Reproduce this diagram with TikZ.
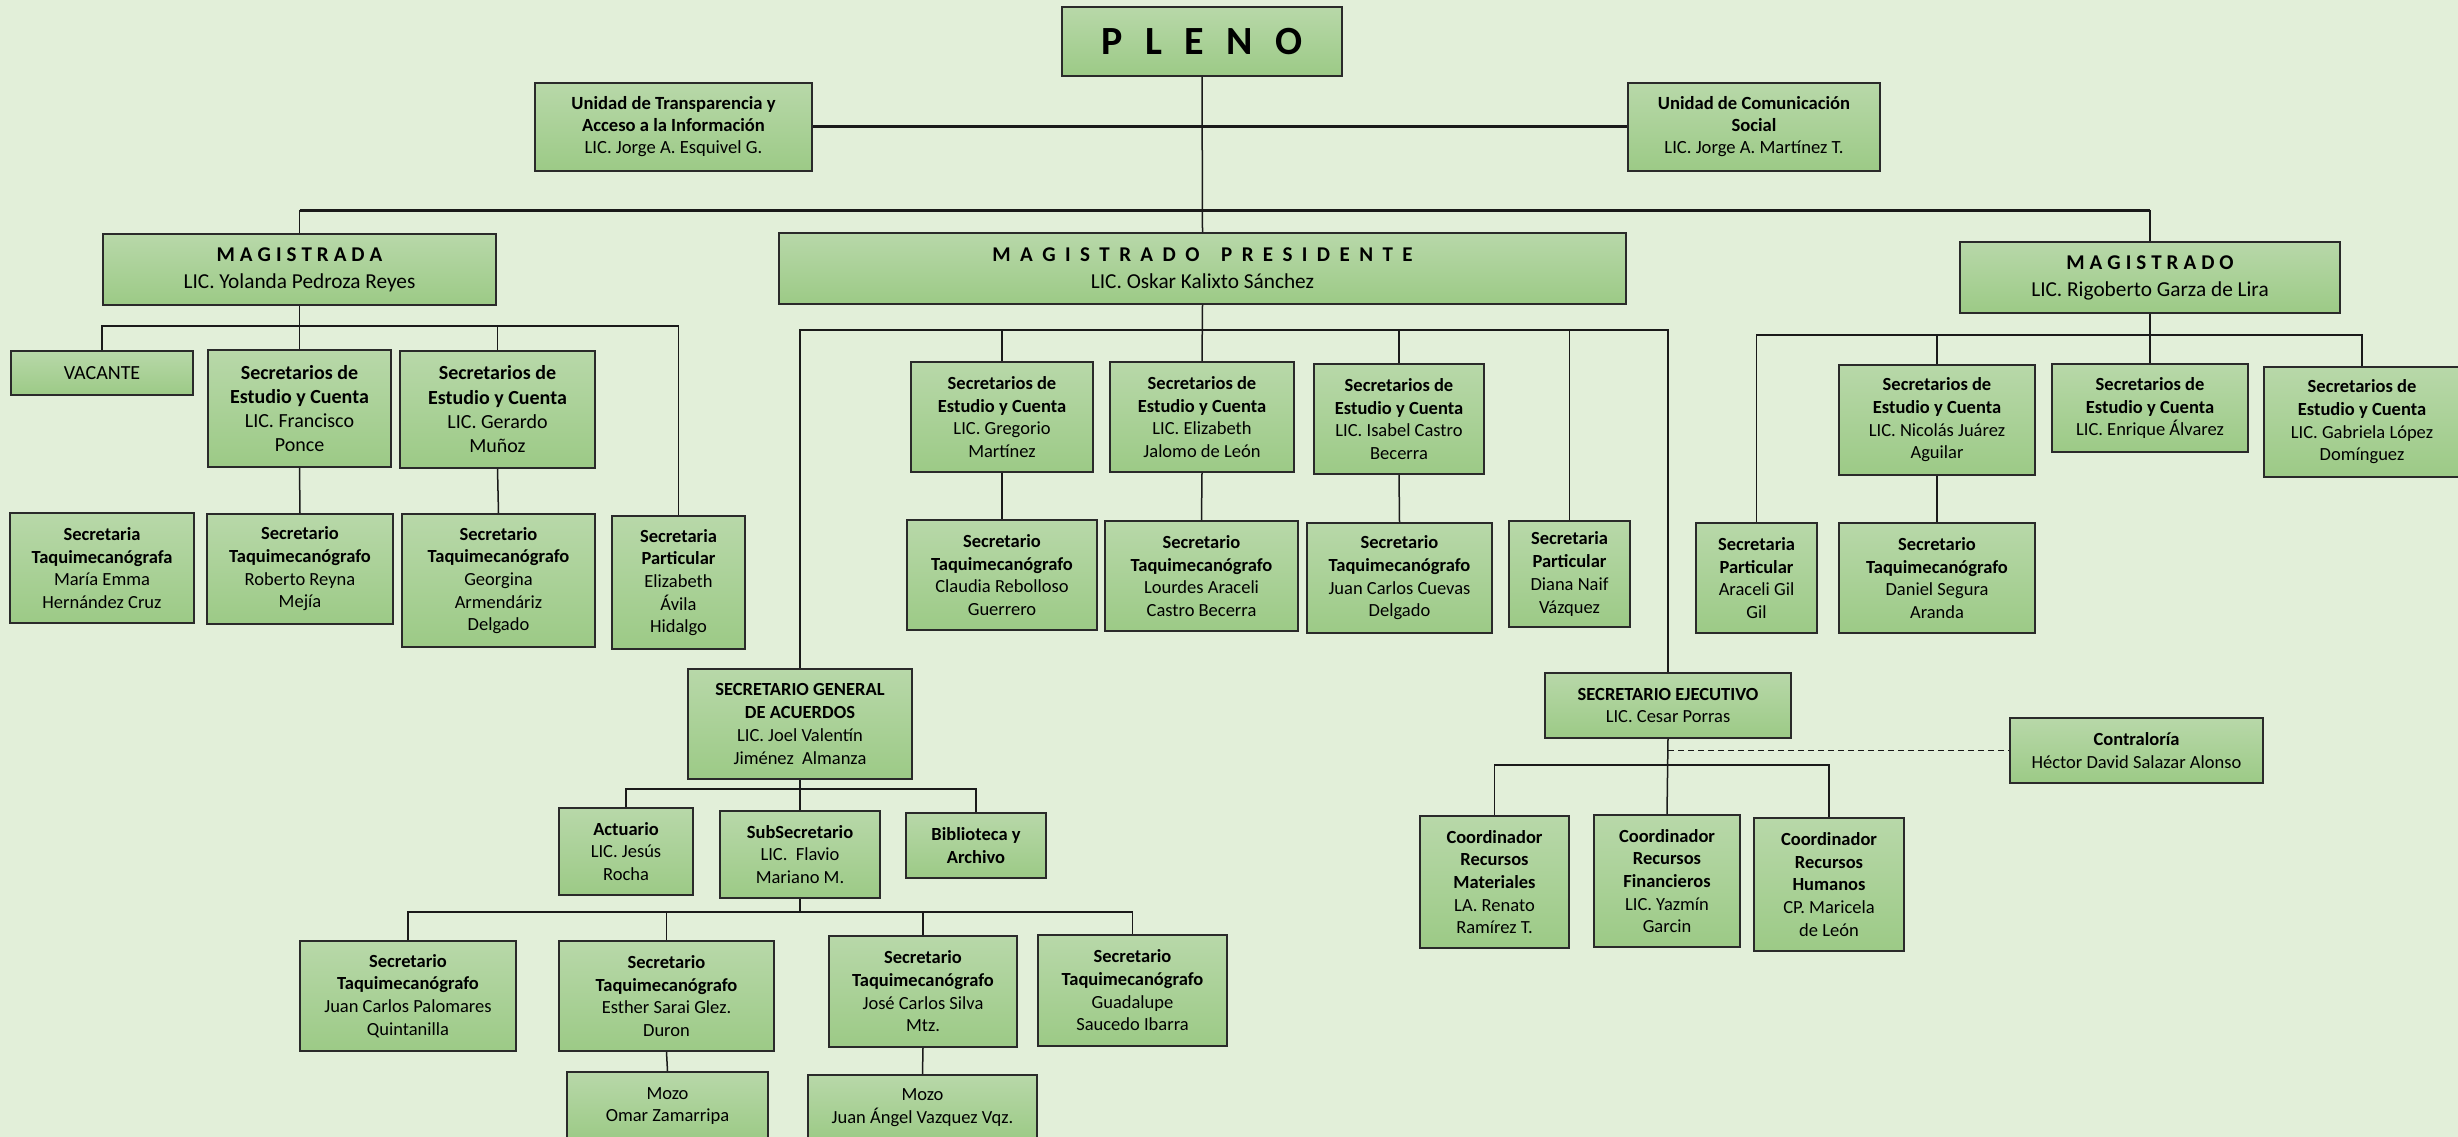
\documentclass[tikz,border=0pt]{standalone}
\usepackage{fontspec}
\setmainfont{Carlito}
\usetikzlibrary{shadings}
\definecolor{bgc}{HTML}{E2EFD9}
\definecolor{btop}{HTML}{B8D8A9}
\definecolor{bbot}{HTML}{9CCA86}
\definecolor{bord}{HTML}{2A2A2A}
\definecolor{lnc}{HTML}{1A1A1A}
\makeatletter
\newcommand\lspace[2]{\def\ls@g{#1}\@tfor\ls@c:=#2\do{\ls@c\kern\ls@g}\unkern}
\makeatother
\newcommand{\orgbox}[7][]{\node[obox,#1,minimum width={(#4-#2)*1pt},minimum height={(#6-#3)*1pt}] (#5) at ({(#2+#4)/2},{(#3+#6)/2}) {#7};}
\tikzset{
  obox/.style={draw=bord, line width=1.8pt, top color=btop, bottom color=bbot, inner sep=0pt, align=center, text=black, font=\fontsize{18.5}{22.7}\selectfont},
  bigf/.style={font=\fontsize{20}{24.3}\selectfont},
  unitf/.style={font=\fontsize{18.6}{22}\selectfont},
  topf/.style={font=\fontsize{21.3}{27}\selectfont},
  conn/.style={draw=lnc, line width=1.5pt},
  thickconn/.style={draw=lnc, line width=3pt},
}
\begin{document}
\begin{tikzpicture}[x=1pt,y=-1pt]
\useasboundingbox (0,0) rectangle (2458,1137);
\fill[bgc] (0,0) rectangle (2458,1137);
% top level
\orgbox{1062}{7}{1342}{pleno}{76}{{\fontsize{40}{48}\selectfont\bfseries\lspace{22.7pt}{PLENO}}}
\orgbox[unitf]{535}{83}{812}{ut}{171}{\textbf{Unidad de Transparencia y}\\\textbf{Acceso a la Información}\\LIC. Jorge A. Esquivel G.}
\orgbox[unitf]{1628}{83}{1880}{uc}{171}{\textbf{Unidad de Comunicación}\\\textbf{Social}\\LIC. Jorge A. Martínez T.}
\orgbox[topf]{103}{234}{496}{mgda}{305}{{\fontsize{21}{27}\selectfont\bfseries\lspace{5pt}{MAGISTRADA}}\\LIC. Yolanda Pedroza Reyes}
\orgbox[topf]{779}{233}{1626}{mp}{304}{{\fontsize{21}{27}\selectfont\bfseries\lspace{9.4pt}{MAGISTRADO}\hspace{17pt} \lspace{9.4pt}{PRESIDENTE}}\\LIC. Oskar Kalixto Sánchez}
\orgbox[topf]{1960}{242}{2340}{mgdo}{313}{{\fontsize{21}{27}\selectfont\bfseries\lspace{5pt}{MAGISTRADO}}\\LIC. Rigoberto Garza de Lira}
% left branch
\orgbox[bigf]{11}{351}{193}{vac}{395}{VACANTE}
\orgbox[bigf]{208}{350}{391}{fp}{467}{\textbf{Secretarios de}\\\textbf{Estudio y Cuenta}\\LIC. Francisco\\Ponce}
\orgbox[bigf]{400}{351}{595}{gm}{468}{\textbf{Secretarios de}\\\textbf{Estudio y Cuenta}\\LIC. Gerardo\\Muñoz}
\orgbox{10}{513}{194}{me}{623}{\textbf{Secretaria}\\\textbf{Taquimecanógrafa}\\María Emma\\Hernández Cruz}
\orgbox{207}{514}{393}{rr}{624}{\textbf{Secretario}\\\textbf{Taquimecanógrafo}\\Roberto Reyna\\Mejía}
\orgbox{402}{514}{595}{ga}{647}{\textbf{Secretario}\\\textbf{Taquimecanógrafo}\\Georgina\\Armendáriz\\Delgado}
\orgbox{612}{516}{745}{ea}{649}{\textbf{Secretaria}\\\textbf{Particular}\\Elizabeth\\Ávila\\Hidalgo}
% center branch
\orgbox{911}{362}{1093}{gr}{472}{\textbf{Secretarios de}\\\textbf{Estudio y Cuenta}\\LIC. Gregorio\\Martínez}
\orgbox{1110}{362}{1294}{ej}{472}{\textbf{Secretarios de}\\\textbf{Estudio y Cuenta}\\LIC. Elizabeth\\Jalomo de León}
\orgbox{1314}{364}{1484}{ic}{474}{\textbf{Secretarios de}\\\textbf{Estudio y Cuenta}\\LIC. Isabel Castro\\Becerra}
\orgbox{907}{520}{1097}{cr}{630}{\textbf{Secretario}\\\textbf{Taquimecanógrafo}\\Claudia Rebolloso\\Guerrero}
\orgbox{1105}{521}{1298}{la}{631}{\textbf{Secretario}\\\textbf{Taquimecanógrafo}\\Lourdes Araceli\\Castro Becerra}
\orgbox{1307}{523}{1492}{jc}{633}{\textbf{Secretario}\\\textbf{Taquimecanógrafo}\\Juan Carlos Cuevas\\Delgado}
\orgbox{1509}{521}{1630}{dn}{627}{\textbf{Secretaria}\\\textbf{Particular}\\Diana Naif\\Vázquez}
% secretario general
\orgbox{688}{669}{912}{sga}{779}{\textbf{SECRETARIO GENERAL}\\\textbf{DE ACUERDOS}\\LIC. Joel Valentín\\Jiménez\ \ Almanza}
\orgbox{559}{808}{693}{act}{895}{\textbf{Actuario}\\LIC. Jesús\\Rocha}
\orgbox{720}{811}{880}{sub}{898}{\textbf{SubSecretario}\\LIC.\ \ Flavio\\Mariano M.}
\orgbox{906}{813}{1046}{bib}{878}{\textbf{Biblioteca y}\\\textbf{Archivo}}
\orgbox{300}{941}{516}{jcp}{1051}{\textbf{Secretario}\\\textbf{Taquimecanógrafo}\\Juan Carlos Palomares\\Quintanilla}
\orgbox{559}{941}{774}{es}{1051}{\textbf{Secretario}\\\textbf{Taquimecanógrafo}\\Esther Sarai Glez.\\Duron}
\orgbox{829}{936}{1017}{js}{1047}{\textbf{Secretario}\\\textbf{Taquimecanógrafo}\\José Carlos Silva\\Mtz.}
\orgbox{1038}{935}{1227}{gu}{1046}{\textbf{Secretario}\\\textbf{Taquimecanógrafo}\\Guadalupe\\Saucedo Ibarra}
\orgbox{567}{1072}{768}{mo}{1140}{Mozo\\Omar Zamarripa}
\orgbox{808}{1075}{1037}{mj}{1140}{Mozo\\Juan Ángel Vazquez Vqz.}
% secretario ejecutivo
\orgbox{1545}{673}{1791}{se}{738}{\textbf{SECRETARIO EJECUTIVO}\\LIC. Cesar Porras}
\orgbox{2010}{718}{2263}{con}{783}{\textbf{Contraloría}\\Héctor David Salazar Alonso}
\orgbox{1420}{816}{1569}{crm}{948}{\textbf{Coordinador}\\\textbf{Recursos}\\\textbf{Materiales}\\LA. Renato\\Ramírez T.}
\orgbox{1594}{815}{1740}{crf}{947}{\textbf{Coordinador}\\\textbf{Recursos}\\\textbf{Financieros}\\LIC. Yazmín\\Garcin}
\orgbox{1754}{818}{1904}{crh}{951}{\textbf{Coordinador}\\\textbf{Recursos}\\\textbf{Humanos}\\CP. Maricela\\de León}
% right branch
\orgbox{1839}{365}{2035}{nj}{475}{\textbf{Secretarios de}\\\textbf{Estudio y Cuenta}\\LIC. Nicolás Juárez\\Aguilar}
\orgbox{2052}{364}{2248}{en}{452}{\textbf{Secretarios de}\\\textbf{Estudio y Cuenta}\\LIC. Enrique Álvarez}
\orgbox{2264}{367}{2460}{gl}{477}{\textbf{Secretarios de}\\\textbf{Estudio y Cuenta}\\LIC. Gabriela López\\Domínguez}
\orgbox{1696}{523}{1817}{ag}{633}{\textbf{Secretaria}\\\textbf{Particular}\\Araceli Gil\\Gil}
\orgbox{1839}{523}{2035}{ds}{633}{\textbf{Secretario}\\\textbf{Taquimecanógrafo}\\Daniel Segura\\Aranda}
% bus coordinates
\coordinate (topbus) at (0,210);
\coordinate (lbus) at (0,326);
\coordinate (cbus) at (0,330);
\coordinate (rbus) at (0,335);
\coordinate (sbus) at (0,789);
\coordinate (tbus) at (0,912);
\coordinate (ebus) at (0,765);
% connectors
\draw[conn] (pleno.south) -- (mp.north);
\draw[thickconn] (ut.east) -- (uc.west);
\draw[thickconn] (topbus -| mgda.north) -- (topbus -| mgdo.north);
\draw[conn] (topbus -| mgda.north) -- (mgda.north);
\draw[conn] (topbus -| mgdo.north) -- (mgdo.north);
% left
\draw[conn] (mgda.south) -- (fp.north);
\draw[conn] (vac.north) |- (lbus -| ea.north) -- (ea.north);
\draw[conn] (gm.north) -- (gm.north |- lbus);
\draw[conn] (fp.south) -- (rr.north);
\draw[conn] (gm.south) -- (ga.north);
% center
\draw[conn] (mp.south) -- (ej.north);
\draw[conn] (sga.north) |- (cbus -| se.north) -- (se.north);
\draw[conn] (gr.north) -- (gr.north |- cbus);
\draw[conn] (ic.north) -- (ic.north |- cbus);
\draw[conn] (dn.north) -- (dn.north |- cbus);
\draw[conn] (gr.south) -- (cr.north);
\draw[conn] (ej.south) -- (la.north);
\draw[conn] (ic.south) -- (jc.north);
% secretario general
\draw[conn] (sga.south) -- (sub.north);
\draw[conn] (act.north) |- (sbus -| bib.north) -- (bib.north);
\draw[conn] (sub.south) -- (sub.south |- tbus);
\draw[conn] (jcp.north) |- (tbus -| gu.north) -- (gu.north);
\draw[conn] (es.north) -- (es.north |- tbus);
\draw[conn] (js.north) -- (js.north |- tbus);
\draw[conn] (es.south) -- (mo.north);
\draw[conn] (js.south) -- (mj.north);
% secretario ejecutivo
\draw[conn] (se.south) -- (crf.north);
\draw[conn] (crm.north) |- (ebus -| crh.north) -- (crh.north);
\draw[conn, dashed, dash pattern=on 6pt off 4pt] (se.south |- con.west) -- (con.west);
% right
\draw[conn] (mgdo.south) -- (en.north);
\draw[conn] (ag.north) |- (rbus -| gl.north) -- (gl.north);
\draw[conn] (nj.north) -- (nj.north |- rbus);
\draw[conn] (nj.south) -- (ds.north);
\end{tikzpicture}
\end{document}
